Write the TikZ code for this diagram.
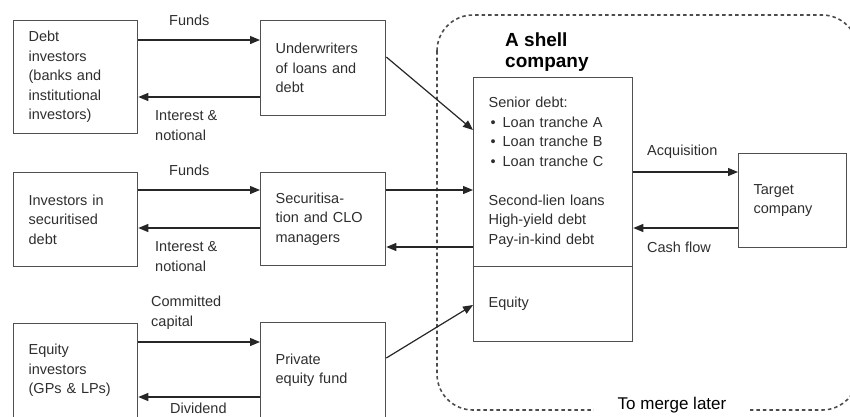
\documentclass[tikz,border=0pt]{standalone}
\usepackage{fontspec}
\setmainfont{Liberation Sans}
\usetikzlibrary{arrows.meta}
\definecolor{boxline}{HTML}{505050}
\definecolor{txt}{HTML}{2E2E2E}
\begin{document}
\begin{tikzpicture}[x=1pt,y=-1pt,
  every node/.style={text=txt,font=\fontsize{14.5}{19.5}\selectfont},
  box/.style={draw=boxline,line width=1.3pt,anchor=north west,align=left,
    inner xsep=15pt,inner ysep=2pt},
  lbl/.style={anchor=west,align=left,inner sep=0pt},
  arr/.style={draw=black!85,line width=1.2pt,-{Triangle[length=10pt,width=8pt]}},
  region/.style={draw=black!70,line width=1.6pt,dash pattern=on 3.5pt off 3pt,rounded corners=36pt}]
\useasboundingbox (0,0) rectangle (850,416);
% dashed region of the shell company
\draw[region] (437,15) rectangle (858,410);
\node[fill=white,inner xsep=24pt,inner ysep=3pt,text=black,font=\fontsize{17}{20}\selectfont] (merge) at (672,405) {To merge later};
\node[lbl,text=black,font=\fontsize{19}{21}\selectfont\bfseries] (title) at (505,52.5) {A shell\\company};
% boxes
\node[box,minimum width=124pt,minimum height=113pt,text width=94pt] (db) at (13,20)
  {Debt\\investors\\(banks and\\institutional\\investors)};
\node[box,minimum width=125pt,minimum height=95pt,text width=95pt] (uw) at (260,20)
  {Underwriters\\of loans and\\debt};
\node[box,minimum width=124pt,minimum height=94pt,text width=94pt] (isd) at (13,172)
  {Investors in\\securitised\\debt};
\node[box,minimum width=125pt,minimum height=93pt,text width=95pt] (sec) at (260,172)
  {Securitisa-\\tion and CLO\\managers};
\node[box,minimum width=124pt,minimum height=94pt,text width=94pt] (eqi) at (13,323)
  {Equity\\investors\\(GPs \& LPs)};
\node[box,minimum width=125pt,minimum height=95pt,text width=95pt] (pe) at (260,322)
  {Private\\equity fund};
\node[box,minimum width=159pt,minimum height=189pt,text width=129pt] (shelltop) at (473,77)
  {Senior debt:\\
   \hspace*{2pt}\makebox[12pt][l]{•}Loan tranche A\\
   \hspace*{2pt}\makebox[12pt][l]{•}Loan tranche B\\
   \hspace*{2pt}\makebox[12pt][l]{•}Loan tranche C\\[19.5pt]
   Second-lien loans\\High-yield debt\\Pay-in-kind debt};
\node[box,minimum width=159pt,minimum height=75pt,text width=129pt] (shellbot) at (473,266)
  {\raisebox{4pt}{Equity}};
\node[box,minimum width=108pt,minimum height=94pt,text width=78pt] (tgt) at (738,153)
  {Target\\company};
% connectors row 1
\draw[arr] (db.east |- 0,40) -- (uw.west |- 0,40);
\draw[arr] (uw.west |- 0,97) -- (db.east |- 0,97);
\node[lbl] (f1) at (169,20) {Funds};
\node[lbl] (i1) at (155,125.5) {Interest \&\\notional};
\draw[arr] (uw.east |- 0,57) -- (shelltop.west |- 0,130);
% row 2
\draw[arr] (isd.east |- 0,190) -- (sec.west |- 0,190);
\draw[arr] (sec.west |- 0,228) -- (isd.east |- 0,228);
\node[lbl] (f2) at (169,170) {Funds};
\node[lbl] (i2) at (155,256.5) {Interest \&\\notional};
\draw[arr] (sec.east |- 0,190) -- (shelltop.west |- 0,190);
\draw[arr] (shelltop.west |- 0,247) -- (sec.east |- 0,247);
% row 3
\draw[arr] (eqi.east |- 0,342) -- (pe.west |- 0,342);
\draw[arr] (pe.west |- 0,397) -- (eqi.east |- 0,397);
\node[lbl] (cc) at (151,312.5) {Committed\\capital};
\node[lbl] (dv) at (170,408) {Dividend};
\draw[arr] (pe.east |- 0,358) -- (shellbot.west |- 0,305);
% target
\draw[arr] (shelltop.east |- 0,172) -- (tgt.west |- 0,172);
\draw[arr] (tgt.west |- 0,228) -- (shelltop.east |- 0,228);
\node[lbl] (acq) at (647,152) {Acquisition};
\node[lbl] (cf) at (647,247) {Cash flow};
\end{tikzpicture}
\end{document}
